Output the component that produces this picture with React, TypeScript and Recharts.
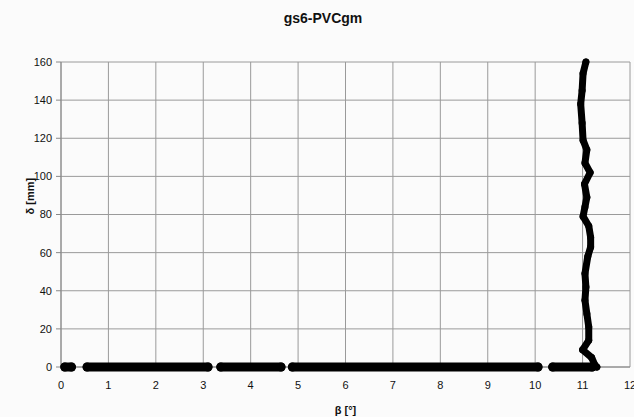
import * as React from "react";
import {
  ScatterChart,
  Scatter,
  CartesianGrid,
  XAxis,
  YAxis,
} from "recharts";

// bottom band: runs of points lying on δ = 0 (start β, end β)
const baseRuns: [number, number][] = [
  [0.08, 0.22],
  [0.55, 3.1],
  [3.37, 4.64],
  [4.88, 10.06],
  [10.37, 11.2],
];

// near-vertical part
const riseBeta = [
  11.3, 11.26, 11.19, 11.0, 11.13, 11.13, 11.09, 11.05, 11.07, 11.05, 11.11,
  11.17, 11.17, 11.13, 11.01, 11.05, 11.09, 11.04, 11.16, 11.05, 11.09, 11.01,
  10.99, 10.96, 10.99, 11.01, 11.07,
];
const riseDelta = [
  0, 1, 5, 9, 14, 21, 28, 35, 42, 49, 58, 63, 68, 74, 79, 84, 89, 96, 102, 107,
  114, 119, 128, 138, 145, 154, 160,
];

const xTicks = [0, 1, 2, 3, 4, 5, 6, 7, 8, 9, 10, 11, 12];
const yTicks = [0, 20, 40, 60, 80, 100, 120, 140, 160];

const riseData = riseBeta.map((b, i) => ({ x: b, y: riseDelta[i] }));

const font = "'Liberation Sans', Arial, sans-serif";

const dot = (r: number) => (p: any) =>
  <circle cx={p.cx} cy={p.cy} r={r} fill="#000" />;

export default function App() {
  return (
    <div
      style={{
        position: "absolute",
        left: 0,
        top: 0,
        width: 634,
        height: 417,
        background: "#fbfbfb",
        fontFamily: font,
      }}
    >
      <div
        style={{
          position: "absolute",
          left: 0,
          width: 646,
          top: 10,
          textAlign: "center",
          fontWeight: "bold",
          fontSize: 14,
          color: "#111",
        }}
      >
        gs6-PVCgm
      </div>
      <ScatterChart
        width={634}
        height={417}
        margin={{ top: 62, right: 4, bottom: 0, left: 0 }}
      >
        <CartesianGrid stroke="#9a9a9a" strokeWidth={1} />
        <XAxis
          type="number"
          dataKey="x"
          domain={[0, 12]}
          ticks={xTicks}
          interval={0}
          height={50}
          tickSize={5}
          tickMargin={9}
          tickLine={false}
          axisLine={{ stroke: "#888" }}
          tick={{ fill: "#111", fontSize: 11, fontFamily: font }}
          label={{
            value: "β [°]",
            position: "insideBottom",
            offset: 3,
            fill: "#111",
            fontSize: 11,
            fontWeight: "bold",
            fontFamily: font,
          }}
        />
        <YAxis
          type="number"
          dataKey="y"
          domain={[0, 160]}
          ticks={yTicks}
          interval={0}
          width={61}
          tickSize={5}
          tickMargin={4}
          axisLine={{ stroke: "#888" }}
          tickLine={{ stroke: "#888" }}
          tick={{ fill: "#111", fontSize: 11, fontFamily: font }}
          label={{
            value: "δ [mm]",
            angle: -90,
            position: "insideLeft",
            offset: 30,
            fill: "#111",
            fontSize: 11,
            fontWeight: "bold",
            fontFamily: font,
          }}
        />
        {baseRuns.map(([a, b], i) => (
          <Scatter
            key={i}
            data={[
              { x: a, y: 0 },
              { x: b, y: 0 },
            ]}
            fill="#000"
            line={{ stroke: "#000", strokeWidth: 9, strokeLinecap: "round" }}
            shape={dot(4.5)}
            isAnimationActive={false}
          />
        ))}
        <Scatter
          data={riseData}
          fill="#000"
          line={{
            stroke: "#000",
            strokeWidth: 7,
            strokeLinecap: "round",
            strokeLinejoin: "round",
          }}
          shape={dot(3.5)}
          isAnimationActive={false}
        />
      </ScatterChart>
    </div>
  );
}
